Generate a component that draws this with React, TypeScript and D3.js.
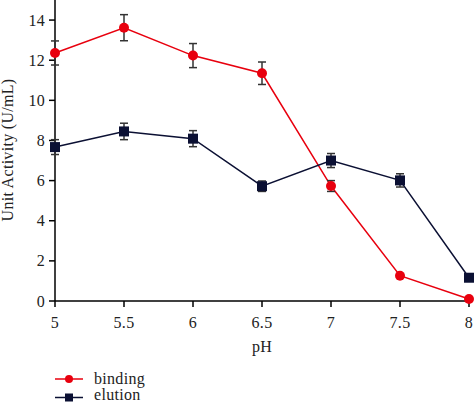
import React from "react";
import * as d3 from "d3";

const phValues = [5, 5.5, 6, 6.5, 7, 7.5, 8];
const xTickLabels = ["5", "5.5", "6", "6.5", "7", "7.5", "8"];
const yTicks = [0, 2, 4, 6, 8, 10, 12, 14];
const bindingValues = [12.36, 13.62, 12.23, 11.35, 5.73, 1.26, 0.1];
const bindingErrors = [0.6, 0.65, 0.6, 0.56, 0.27, 0.05, 0.03];
const elutionValues = [7.67, 8.45, 8.09, 5.72, 7.0, 6.01, 1.16];
const elutionErrors = [0.37, 0.41, 0.4, 0.26, 0.35, 0.33, 0.05];

const W = 474;
const H = 403;
const FONT = "Liberation Serif, Times New Roman, DejaVu Serif, serif";
const RED = "#e8000e";
const NAVY = "#0b1033";
const ERR = "#333333";

export default function App() {
  const x = d3.scaleLinear().domain([5, 8]).range([55, 469]);
  const y = d3.scaleLinear().domain([0, 15]).range([301, 0]);
  const line = d3
    .line<number>()
    .x((_, i) => x(phValues[i]))
    .y((d) => y(d));

  const series = [
    { name: "binding", values: bindingValues, errors: bindingErrors, color: RED, shape: "circle" },
    { name: "elution", values: elutionValues, errors: elutionErrors, color: NAVY, shape: "square" },
  ];

  const marker = (shape: string, cx: number, cy: number, color: string, key: string, s = 5) =>
    shape === "circle" ? (
      <circle key={key} cx={cx} cy={cy} r={s} fill={color} />
    ) : (
      <rect key={key} x={cx - s} y={cy - s} width={2 * s} height={2 * s} fill={color} />
    );

  const ts = {
    fontFamily: FONT,
    fontSize: 16,
    fill: "#222",
    letterSpacing: "0.3px",
  } as React.CSSProperties;

  return (
    <svg
      width={W}
      height={H}
      style={{ position: "absolute", left: 0, top: 0, display: "block", background: "#fff" }}
    >
      <line x1={55} x2={55} y1={y(15)} y2={y(0)} stroke="#000" strokeWidth={1.5} />
      <line x1={55} x2={469} y1={y(0)} y2={y(0)} stroke="#000" strokeWidth={1.5} />
      {yTicks.map((t) => (
        <g key={"y" + t}>
          <line x1={49} x2={55} y1={y(t)} y2={y(t)} stroke="#000" strokeWidth={1.5} />
          <text x={45} y={y(t)} dy="0.35em" textAnchor="end" style={ts}>
            {t}
          </text>
        </g>
      ))}
      {phValues.map((p, i) => (
        <g key={"x" + p}>
          <line x1={x(p)} x2={x(p)} y1={y(0)} y2={y(0) + 6} stroke="#000" strokeWidth={1.5} />
          <text x={x(p)} y={327.5} textAnchor="middle" style={ts}>
            {xTickLabels[i]}
          </text>
        </g>
      ))}
      <text x={262} y={352} textAnchor="middle" style={ts}>
        pH
      </text>
      <text
        transform={`translate(13, 150) rotate(-90)`}
        textAnchor="middle"
        style={ts}
      >
        Unit Activity (U/mL)
      </text>

      {series.map((s) => (
        <g key={s.name}>
          <path d={line(s.values) || ""} fill="none" stroke={s.color} strokeWidth={1.5} />
          {s.values.map((v, i) => {
            const cx = x(phValues[i]);
            const e = s.errors[i];
            return (
              <g key={i}>
                <line x1={cx} x2={cx} y1={y(v + e)} y2={y(v - e)} stroke={ERR} strokeWidth={1.5} />
                <line x1={cx - 4} x2={cx + 4} y1={y(v + e)} y2={y(v + e)} stroke={ERR} strokeWidth={1.5} />
                <line x1={cx - 4} x2={cx + 4} y1={y(v - e)} y2={y(v - e)} stroke={ERR} strokeWidth={1.5} />
              </g>
            );
          })}
          {s.values.map((v, i) => marker(s.shape, x(phValues[i]), y(v), s.color, s.name + i))}
        </g>
      ))}

      {series.map((s, i) => {
        const ly = 379 + i * 18.5;
        return (
          <g key={"lg" + s.name}>
            <line x1={55} x2={83} y1={ly} y2={ly} stroke={s.color} strokeWidth={1.5} />
            {marker(s.shape, 69, ly, s.color, "lm" + s.name, 4)}
            <text x={94} y={Math.min(ly + 5, 400)} style={ts}>
              {s.name}
            </text>
          </g>
        );
      })}
    </svg>
  );
}
